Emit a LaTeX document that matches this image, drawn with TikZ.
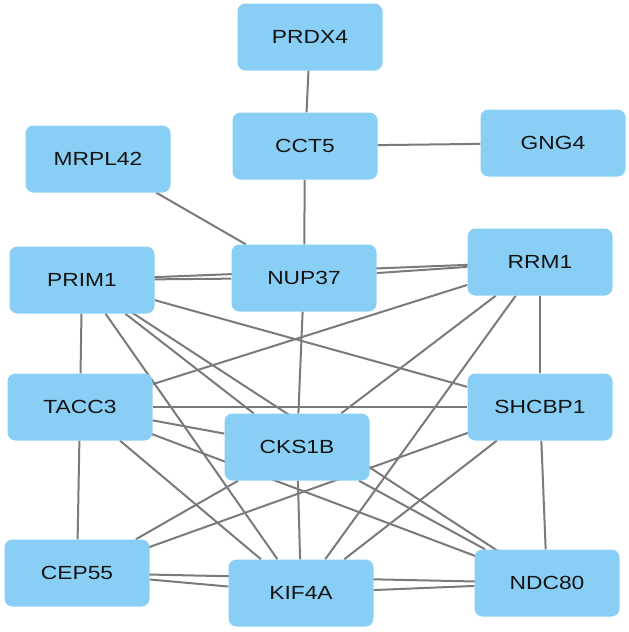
\documentclass[tikz,border=0pt]{standalone}
\usepackage{fontspec}
\setmainfont{Liberation Sans}
\usepackage{graphicx}
\usepackage{tikz}
\usetikzlibrary{backgrounds}
\definecolor{genefill}{RGB}{137,207,245}
\definecolor{edgegray}{RGB}{122,122,122}
\definecolor{genetext}{RGB}{20,20,20}
\newcommand{\gname}[1]{\scalebox{1.2}[1]{#1}}

\begin{document}
\begin{tikzpicture}[x=1pt, y=-1pt,
  gene/.style={rectangle, rounded corners=8pt, fill=genefill, draw=none, minimum width=145pt, minimum height=67pt, inner sep=0pt, text=genetext, font=\fontsize{19}{21}\selectfont},
  link/.style={draw=edgegray, line width=2pt}]
\useasboundingbox (0,0) rectangle (629,632);
% Top: chaperonin branch
\node[gene] (prdx4) at (310,37) {\gname{PRDX4}};
\node[gene] (cct5) at (305,146) {\gname{CCT5}};
\node[gene] (gng4) at (553,143) {\gname{GNG4}};
\node[gene] (mrpl42) at (98,159) {\gname{MRPL42}};
% Middle rows
\node[gene] (prim1) at (82,280) {\gname{PRIM1}};
\node[gene] (nup37) at (304,278) {\gname{NUP37}};
\node[gene] (rrm1) at (540,262) {\gname{RRM1}};
\node[gene] (tacc3) at (80,407) {\gname{TACC3}};
\node[gene] (shcbp1) at (540,407) {\gname{SHCBP1}};
\node[gene] (cks1b) at (297,447) {\gname{CKS1B}};
% Bottom row
\node[gene] (cep55) at (77,573) {\gname{CEP55}};
\node[gene] (kif4a) at (301,593) {\gname{KIF4A}};
\node[gene] (ndc80) at (547,583) {\gname{NDC80}};
% Interactions
\begin{scope}[on background layer]
\draw[link] (prdx4)--(cct5);
\draw[link] (cct5)--(gng4);
\draw[link] (cct5)--(nup37);
\draw[link] (mrpl42)--(nup37);
\draw[link] (prim1)--(nup37);
\draw[link] (nup37)--(rrm1);
\draw[link] (prim1.center)--(rrm1.center);
\draw[link] (prim1)--(tacc3);
\draw[link] (prim1)--(shcbp1);
\draw[link] (prim1)--(kif4a);
\draw[link] (prim1)--(cks1b);
\draw[link] (prim1.center)--(ndc80.center);
\draw[link] (nup37)--(cks1b);
\draw[link] (cks1b)--(kif4a);
\draw[link] (rrm1)--(shcbp1);
\draw[link] (rrm1)--(tacc3);
\draw[link] (rrm1)--(cks1b);
\draw[link] (rrm1)--(kif4a);
\draw[link] (tacc3)--(shcbp1);
\draw[link] (tacc3)--(cks1b);
\draw[link] (tacc3.center)--(ndc80.center);
\draw[link] (tacc3)--(kif4a);
\draw[link] (tacc3)--(cep55);
\draw[link] (shcbp1)--(ndc80);
\draw[link] (shcbp1.center)--(cep55.center);
\draw[link] (shcbp1)--(kif4a);
\draw[link] (cks1b)--(ndc80);
\draw[link] (cks1b)--(cep55);
\draw[link] (cep55)--(kif4a);
\draw[link] (kif4a)--(ndc80);
\draw[link] (cep55.center)--(ndc80.center);
\end{scope}
\end{tikzpicture}
\end{document}
